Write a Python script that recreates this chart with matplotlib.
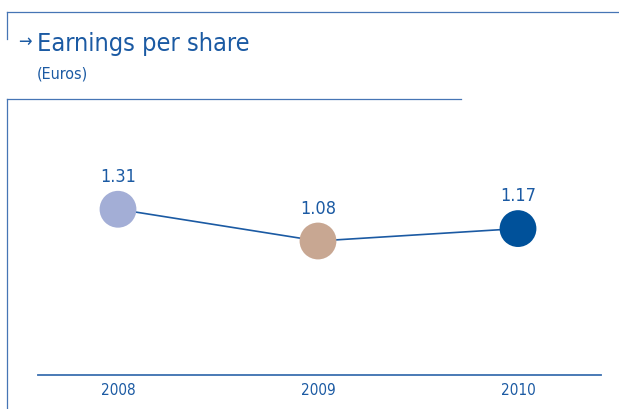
import matplotlib.pyplot as plt
from matplotlib.lines import Line2D

years = ["2008", "2009", "2010"]
eps = [1.31, 1.08, 1.17]
point_colors = ["#a3aed6", "#c8a792", "#00519a"]

blue = "#1b5aa3"
fam = ["DejaVu Sans"]
cond = "condensed"

W, H = 619, 410
fig = plt.figure(figsize=(W / 100, H / 100), dpi=100)

def fx(px):
    return px / W

def fy(py):
    return 1 - py / H

# frame decoration
frame_kw = dict(color="#4675b5", linewidth=0.9, transform=fig.transFigure)
fig.add_artist(Line2D([fx(7), 1], [fy(13), fy(13)], **frame_kw))
fig.add_artist(Line2D([fx(7), fx(7)], [fy(13), fy(40)], **frame_kw))
fig.add_artist(Line2D([fx(7), fx(461)], [fy(100), fy(100)], **frame_kw))
fig.add_artist(Line2D([fx(7), fx(7)], [fy(100), 0], **frame_kw))

# title
fig.text(fx(18), fy(42), "\u2192", color=blue, fontsize=13, va="center",
         family=fam, fontstretch=cond)
fig.text(fx(37), fy(51), "Earnings per share", color=blue, fontsize=18.2,
         family=fam, fontstretch=cond, va="baseline")
fig.text(fx(37), fy(79), "(Euros)", color=blue, fontsize=11.5,
         family=fam, fontstretch=cond, va="baseline")

# plot area
left, right, bottom, top = 38, 601, 376, 100
ax = fig.add_axes([fx(left), fy(bottom), (right - left) / W, (bottom - top) / H])
x = list(range(len(years)))
ax.plot(x, eps, color=blue, linewidth=1.2, zorder=1)
ax.scatter(x, eps, s=26.5 ** 2, c=point_colors, zorder=2, linewidths=0)
for xi, v in zip(x, eps):
    ax.annotate(f"{v:.2f}", (xi, v), xytext=(0, 24), textcoords="offset points",
                ha="center", va="center", color=blue, fontsize=13,
                family=fam, fontstretch=cond)

ax.set_xlim(-0.4, 2.415)
ax.set_ylim(0.109, 2.109)
ax.set_xticks(x)
ax.set_xticklabels(years, color=blue, fontsize=11, family=fam, fontstretch=cond)
ax.tick_params(axis="x", length=0, pad=5)
ax.set_yticks([])
for s in ["top", "left", "right"]:
    ax.spines[s].set_visible(False)
ax.spines["bottom"].set_color("#3a6fb0")
ax.spines["bottom"].set_linewidth(1.3)
ax.patch.set_alpha(0)

fig.savefig("out.png", dpi=100)
